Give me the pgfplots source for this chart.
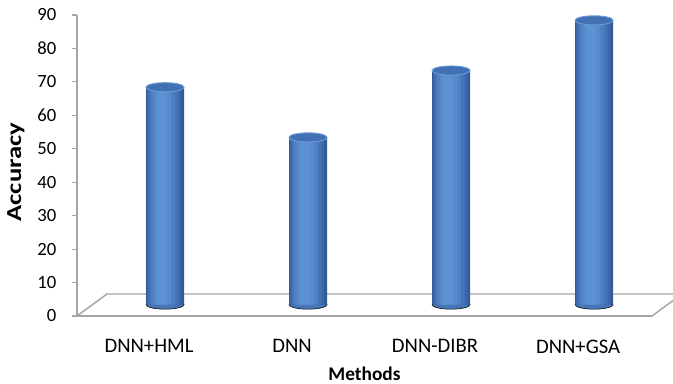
\documentclass[border=0pt]{standalone}
\usepackage{fontspec}
\setmainfont{Carlito}
\usepackage{graphicx}
\usepackage{pgfplots}
\usepackage{pgfplotstable}
\pgfplotsset{compat=1.18}
\definecolor{barmid}{RGB}{70,118,182}
\definecolor{cA}{RGB}{50,90,155}
\definecolor{cB}{RGB}{60,103,169}
\definecolor{cC}{RGB}{69,116,182}
\definecolor{cD}{RGB}{78,128,194}
\definecolor{cE}{RGB}{86,138,204}
\definecolor{cF}{RGB}{92,146,212}
\definecolor{bartop}{RGB}{66,112,180}
\definecolor{barrim}{RGB}{105,155,215}
\definecolor{axgray}{RGB}{165,165,165}
\pgfplotstableread{
x      base  v
0.112  3.4   65
1.112  3.4   50
2.112  3.4   70
3.112  3.4   85
}\data
\pgfplotsset{
  basegeom/.style={scale only axis, width=431.25pt, height=225.75pt,
    xmin=-0.5035, xmax=3.517, ymin=0, ymax=90, clip=false},
  layer/.style={basegeom, hide axis, ybar stacked},
}
\newcommand{\cylayer}[3]{%
\begin{axis}[layer]
\addplot[draw=none, fill=none, bar width=#1, bar shift=#2] table[x=x,y=base]{\data};
\addplot[draw=none, fill=#3, bar width=#1, bar shift=#2] table[x=x,y=v]{\data};
\end{axis}}
\begin{document}
\begin{tikzpicture}
\begin{axis}[
  basegeom,
  axis x line=bottom, axis y line=left,
  axis line style={axgray, line width=1.1pt, -},
  xtick={0,1,2,3}, xticklabels={DNN+HML,DNN,DNN-DIBR,DNN+GSA},
  x tick style={draw=none},
  ytick={0,10,...,90},
  tick align=outside,
  y tick style={axgray, line width=0.9pt},
  major tick length=3.75pt,
  /pgf/number format/assume math mode=true,
  yticklabel style={font=\fontsize{14}{16}\selectfont, xshift=-8.25pt},
  xticklabel style={font=\fontsize{15.5}{18}\selectfont, yshift=-10.5pt},
  xlabel={Methods}, ylabel={\scalebox{1.25}[1]{Accuracy}},
  xlabel style={font=\bfseries\fontsize{14.5}{16}\selectfont,
    at={(rel axis cs:0.5,0)}, anchor=base, yshift=-48pt},
  ylabel style={font=\bfseries\fontsize{16}{18}\selectfont,
    at={([xshift=-45.75pt]rel axis cs:0,0.478)}, anchor=center},
]
\draw[axgray, line width=1.1pt] (axis cs:-0.5035,0) -- (axis cs:-0.294,6.58) -- (axis cs:3.727,6.58) -- (axis cs:3.517,0);
\addplot[only marks, mark=*, mark size=14.25pt,
  mark options={fill=barmid, draw=none, yscale=0.24}]
  table[x=x,y=base]{\data};
\end{axis}
\cylayer{0.266}{0}{cA}
\cylayer{0.240}{-0.005}{cB}
\cylayer{0.208}{-0.010}{cC}
\cylayer{0.170}{-0.014}{cD}
\cylayer{0.125}{-0.018}{cE}
\cylayer{0.075}{-0.021}{cF}
\begin{axis}[layer]
\addplot[draw=none, fill=none] table[x=x,y=base]{\data};
\addplot[draw=none, fill=none, mark=*, mark size=14.25pt,
  mark options={fill=bartop, draw=barrim, line width=0.7pt, yscale=0.24}]
  table[x=x,y=v]{\data};
\end{axis}
\pgfresetboundingbox
\path[use as bounding box] (-57.75pt,-51pt) rectangle (447pt,237pt);
\end{tikzpicture}
\end{document}
